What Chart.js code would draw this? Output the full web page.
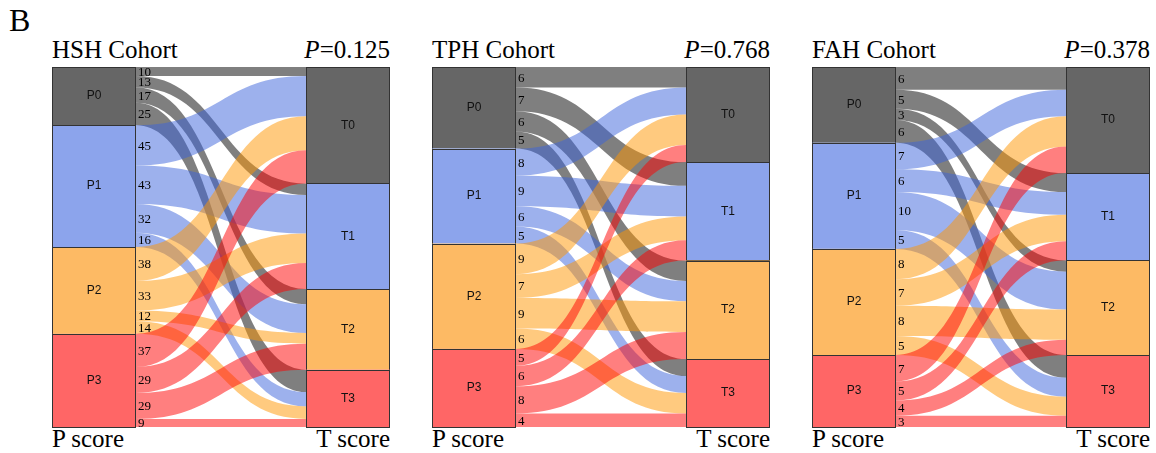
<!DOCTYPE html>
<html>
<head>
<meta charset="utf-8">
<script src="https://cdn.jsdelivr.net/npm/chart.js"></script>
<style>
  body { margin: 0; background: #fff; width: 1156px; height: 453px; position: relative; overflow: hidden; }
  .txt { position: absolute; font-family: 'Liberation Serif', 'Times New Roman', serif; font-size: 25px; line-height: 25px; color: #000; white-space: nowrap; }
  .panel { position: absolute; top: 65px; width: 342px; height: 364px; }
</style>
</head>
<body>
<div class="txt" style="left:9px; top:4px; font-size:32px; line-height:32px;">B</div>
<div id="wrap"></div>

<script>
// P score nodes (left), T score nodes (right)
const sourceLabels = ['P0', 'P1', 'P2', 'P3'];
const targetLabels = ['T0', 'T1', 'T2', 'T3'];
const cohorts = ['HSH Cohort', 'TPH Cohort', 'FAH Cohort'];
const pValues = ['0.125', '0.768', '0.378'];

// rows = P0..P3, columns = flow to T0..T3
const hshFlows = [
  [10, 13, 17, 25],
  [45, 43, 32, 16],
  [38, 33, 12, 14],
  [37, 29, 29, 9]
];
const tphFlows = [
  [6, 7, 6, 5],
  [8, 9, 6, 5],
  [9, 7, 9, 6],
  [5, 6, 8, 4]
];
const fahFlows = [
  [6, 5, 3, 6],
  [7, 6, 10, 5],
  [8, 7, 8, 5],
  [7, 5, 4, 3]
];

const NODE_COLORS = ['#666666', '#8ca4ec', '#fdba64', '#ff6666'];
const FLOW_COLORS = ['rgba(0,0,0,0.5)', 'rgba(60,100,220,0.5)', 'rgba(255,150,0,0.5)', 'rgba(255,0,0,0.5)'];
const NODE_W = 84 / 338; // node width as a fraction of the panel

const sankeyPlugin = {
  id: 'sankey',
  afterDraw(chart, args, opts) {
    const { ctx, scales: { x, y } } = chart;
    const flows = opts.flows;
    const srcTot = flows.map(r => r.reduce((a, b) => a + b, 0));
    const tgtTot = flows[0].map((_, j) => flows.reduce((a, r) => a + r[j], 0));
    const cum = arr => { let s = 0; return arr.map(v => { const o = s; s += v; return o; }); };
    const srcStart = cum(srcTot), tgtStart = cum(tgtTot);
    const srcOff = srcStart.slice(), tgtOff = tgtStart.slice();

    const xl = x.getPixelForValue(NODE_W);
    const xr = x.getPixelForValue(1 - NODE_W);
    const xm = (xl + xr) / 2;
    const labels = [];

    ctx.save();
    flows.forEach((row, i) => {
      row.forEach((v, j) => {
        if (!v) return;
        const a0 = y.getPixelForValue(srcOff[i]), b0 = y.getPixelForValue(srcOff[i] + v);
        const a1 = y.getPixelForValue(tgtOff[j]), b1 = y.getPixelForValue(tgtOff[j] + v);
        ctx.beginPath();
        ctx.moveTo(xl, a0);
        ctx.bezierCurveTo(xm, a0, xm, a1, xr, a1);
        ctx.lineTo(xr, b1);
        ctx.bezierCurveTo(xm, b1, xm, b0, xl, b0);
        ctx.closePath();
        ctx.fillStyle = FLOW_COLORS[i];
        ctx.fill();
        labels.push({ v, yc: (a0 + b0) / 2 });
        srcOff[i] += v;
        tgtOff[j] += v;
      });
    });

    // value labels at the start of each flow
    ctx.fillStyle = '#000';
    ctx.font = '13px "Liberation Serif", serif';
    ctx.textAlign = 'left';
    ctx.textBaseline = 'middle';
    labels.forEach(l => ctx.fillText(String(l.v), xl + 2, l.yc + 1));

    // nodes
    const drawNode = (x0, x1, start, val, color, label) => {
      const t = y.getPixelForValue(start), b = y.getPixelForValue(start + val);
      ctx.fillStyle = color;
      ctx.fillRect(x0, t, x1 - x0, b - t);
      ctx.strokeStyle = '#333';
      ctx.lineWidth = 1;
      ctx.strokeRect(Math.round(x0) + 0.5, Math.round(t) + 0.5, Math.round(x1 - x0) - 1, Math.round(b - t));
      ctx.fillStyle = '#111';
      ctx.font = '12px "Liberation Sans", Arial, sans-serif';
      ctx.textAlign = 'center';
      ctx.fillText(label, (x0 + x1) / 2, (t + b) / 2);
    };
    const x0 = x.getPixelForValue(0), x1 = x.getPixelForValue(1);
    srcTot.forEach((v, i) => drawNode(x0, xl, srcStart[i], v, NODE_COLORS[i], sourceLabels[i]));
    tgtTot.forEach((v, j) => drawNode(xr, x1, tgtStart[j], v, NODE_COLORS[j], targetLabels[j]));
    ctx.restore();
  }
};

const allFlows = [hshFlows, tphFlows, fahFlows];
const wrap = document.getElementById('wrap');

allFlows.forEach((flows, k) => {
  const left = 52 + k * 380;
  wrap.insertAdjacentHTML('beforeend', `
    <div class="txt" style="left:${left}px; top:37px;">${cohorts[k]}</div>
    <div class="txt" style="left:${left}px; top:37px; width:338px; text-align:right;"><i>P</i>=${pValues[k]}</div>
    <div class="txt" style="left:${left}px; top:426px;">P score</div>
    <div class="txt" style="left:${left}px; top:426px; width:338px; text-align:right;">T score</div>
    <div class="panel" style="left:${left - 2}px;"><canvas id="c${k}"></canvas></div>
  `);
});

allFlows.forEach((flows, k) => {
  const total = flows.flat().reduce((a, b) => a + b, 0);
  new Chart(document.getElementById('c' + k), {
    type: 'scatter',
    data: { datasets: [{ data: [] }] },
    options: {
      responsive: true,
      maintainAspectRatio: false,
      animation: false,
      layout: { padding: 2 },
      scales: {
        x: { type: 'linear', min: 0, max: 1, display: false },
        y: { type: 'linear', min: 0, max: total, reverse: true, display: false }
      },
      plugins: {
        legend: { display: false },
        tooltip: { enabled: false },
        sankey: { flows: flows }
      }
    },
    plugins: [sankeyPlugin]
  });
});
</script>
</body>
</html>
